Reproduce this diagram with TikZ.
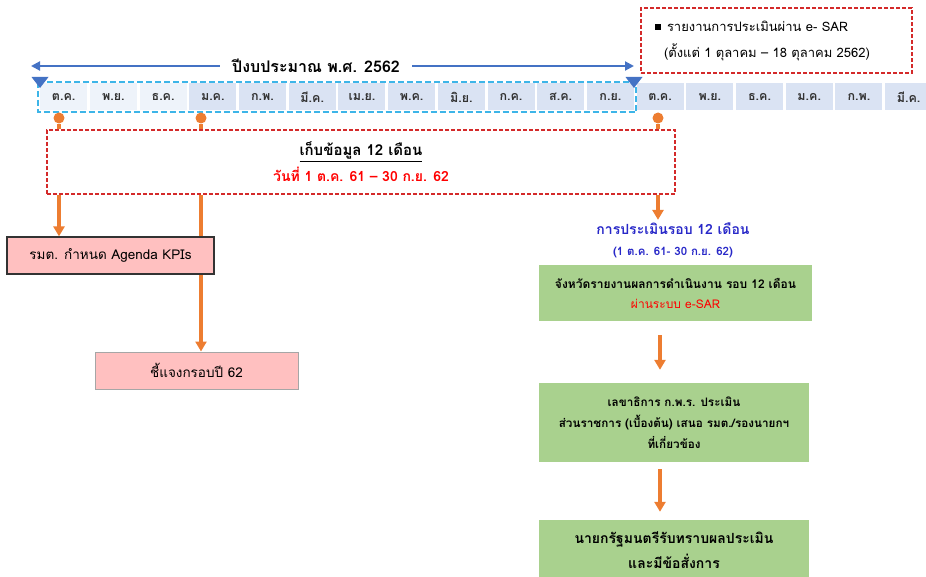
\documentclass[tikz,border=0pt]{standalone}
\usepackage{fontspec}
\setmainfont[Script=Thai]{Loma}
\usetikzlibrary{arrows.meta,positioning,backgrounds}

\definecolor{cellA}{HTML}{EEF3FA}
\definecolor{cellB}{HTML}{DAE3F3}
\definecolor{lineblue}{HTML}{4472C4}
\definecolor{dashblue}{HTML}{3DB5E8}
\definecolor{boxred}{HTML}{D42A2A}
\definecolor{pinorange}{HTML}{ED7D31}
\definecolor{pinkfill}{HTML}{FFC0C0}
\definecolor{greenfill}{HTML}{A9D18E}
\definecolor{evalblue}{HTML}{2828C8}

\begin{document}
\begin{tikzpicture}[x=1pt, y=-1pt,
  month/.style={rectangle, anchor=west, minimum width=47pt, minimum height=27pt, inner sep=0pt, text=black!80, font=\bfseries\fontsize{12.5}{14}\selectfont},
  yearline/.style={lineblue, line width=2pt, -{Triangle[length=9pt, width=9pt]}},
  dashbox/.style={rectangle, draw=boxred, dash pattern=on 4pt off 2pt, line width=1.6pt, fill=white},
  pindot/.style={circle, fill=pinorange, inner sep=0pt, minimum size=11pt},
  pinline/.style={pinorange, line width=3.2pt},
  flow/.style={pinorange, line width=3.2pt, -{Triangle[length=10pt, width=11pt]}},
  pinkbox/.style={rectangle, fill=pinkfill, minimum height=37pt, font=\fontsize{13.5}{17}\selectfont},
  greenbox/.style={rectangle, fill=greenfill, align=center, font=\bfseries\fontsize{11.7}{21}\selectfont}]

\useasboundingbox (0,0) rectangle (926,577);

\foreach \mon [count=\i] in {ต.ค.,พ.ย.,ธ.ค.,ม.ค.,ก.พ.,มี.ค.,เม.ย.,พ.ค.,มิ.ย.,ก.ค.,ส.ค.,ก.ย.,ต.ค.,พ.ย.,ธ.ค.,ม.ค.,ก.พ.,มี.ค.} {
  \ifnum\i<4 \def\cellcol{cellA}\else\def\cellcol{cellB}\fi
  \node[month, fill=\cellcol] (m\i) at ({40+(\i-1)*49.7},97) {\mon};
}

\draw[dashblue, dash pattern=on 6pt off 3pt, line width=2pt] ([xshift=-2pt, yshift=1.5pt]m1.north west) rectangle ([xshift=2pt, yshift=-1.5pt]m12.south east);

\fill[lineblue] (31.5,77) -- (48.5,77) -- (40,88) -- cycle;
\fill[lineblue] (625.5,77) -- (642.5,77) -- (634,88) -- cycle;

\node[font=\bfseries\fontsize{16}{18}\selectfont, inner xsep=12pt] (year) at (316,66) {ปีงบประมาณ พ.ศ. 2562};
\coordinate (yearL) at (31,66);
\coordinate (yearR) at (634,66);
\draw[yearline] (year.west) -- (yearL);
\draw[yearline] (year.east) -- (yearR);

\node[dashbox, minimum width=271pt, minimum height=65pt, inner xsep=14pt, text width=243pt, align=left, font=\fontsize{13}{26}\selectfont] (note) at (776.5,40.5) {\raisebox{1pt}{\rule{6pt}{6pt}}\hspace{6pt}รายงานการประเมินผ่าน e- SAR\\\hspace{9pt}(ตั้งแต่ 1 ตุลาคม – 18 ตุลาคม 2562)};

\node[pindot] (p1) at (59,118) {};
\node[pindot] (p2) at (201,118) {};
\node[pindot] (p3) at (658,118) {};

\node[dashbox, minimum width=628pt, minimum height=64pt, align=center, font=\bfseries\fontsize{15}{26}\selectfont] (collect) at (361,162) {\underline{เก็บข้อมูล 12 เดือน}\\\textcolor{red}{\fontsize{14}{26}\selectfont วันที่ 1 ต.ค. 61 – 30 ก.ย. 62}};

\draw[pinline] (p1) -- (collect.north -| p1);
\draw[pinline] (p2) -- (collect.north -| p2);
\draw[pinline] (p3) -- (collect.north -| p3);

\node[pinkbox, draw=black!80, line width=1.2pt, minimum width=207pt] (agenda) at (110.5,255.5) {รมต. กำหนด Agenda KPIs};
\node[pinkbox, draw=black!35, line width=1pt, minimum width=203pt] (explain) at (196.5,370.5) {ชี้แจงกรอบปี 62};

\draw[flow] (collect.south -| p1) -- (agenda.north -| p1);
\begin{pgfonlayer}{background}
\draw[flow] (collect.south -| p2) -- (explain.north -| p2);
\end{pgfonlayer}

\node[text=evalblue, font=\bfseries\fontsize{14}{17}\selectfont, inner sep=3pt] (evaltitle) at (673,229) {การประเมินรอบ 12 เดือน};
\node[text=evalblue, font=\bfseries\fontsize{11.5}{13}\selectfont, inner sep=1pt] (evalsub) at (673,253) {(1 ต.ค. 61- 30 ก.ย. 62)};
\draw[flow] (collect.south -| p3) -- (evaltitle.north -| p3);

\node[greenbox, minimum width=273pt, minimum height=56pt, font=\bfseries\fontsize{12}{20}\selectfont] (g1) at (675.5,293) {จังหวัดรายงานผลการดำเนินงาน รอบ 12 เดือน\\\textcolor{red}{\mdseries ผ่านระบบ e-SAR}};
\node[greenbox, minimum width=270pt, minimum height=79pt] (g2) at (674,422.5) {เลขาธิการ ก.พ.ร. ประเมิน\\ส่วนราชการ (เบื้องต้น) เสนอ รมต./รองนายกฯ\\ที่เกี่ยวข้อง};
\node[greenbox, minimum width=270pt, minimum height=60pt, font=\bfseries\fontsize{14}{25}\selectfont] (g3) at (674,550) {นายกรัฐมนตรีรับทราบผลประเมิน\\และมีข้อสั่งการ};

\coordinate (flowx) at (660,0);
\draw[flow, shorten <=14pt, shorten >=13pt] (g1.south -| flowx) -- (g2.north -| flowx);
\draw[flow, shorten <=7pt, shorten >=8pt] (g2.south -| flowx) -- (g3.north -| flowx);

\end{tikzpicture}
\end{document}
